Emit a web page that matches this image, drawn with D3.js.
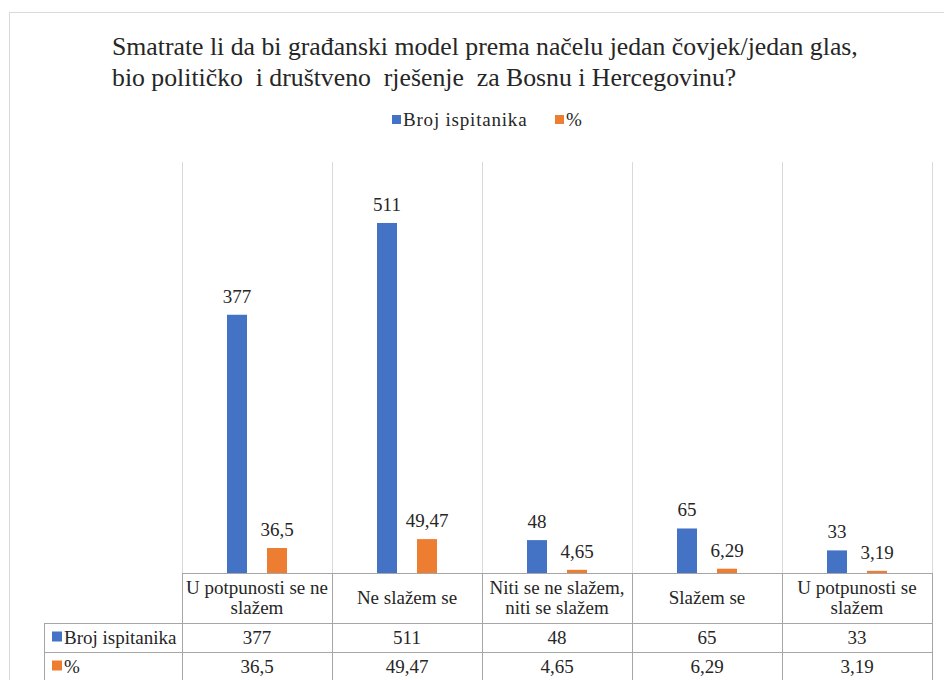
<!DOCTYPE html>
<html><head><meta charset="utf-8"><script src="https://cdn.jsdelivr.net/npm/d3@7"></script></head>
<body style="margin:0">
<script>
// chart data //
var categories = [
  ["U potpunosti se ne", "slažem"],
  ["Ne slažem se"],
  ["Niti se ne slažem,", "niti se slažem"],
  ["Slažem se"],
  ["U potpunosti se", "slažem"]
];
var seriesNames = ["Broj ispitanika", "%"];
var brojValues = [377, 511, 48, 65, 33];
var pctValues = [36.5, 49.47, 4.65, 6.29, 3.19];
var seriesColors = ["#4472C4", "#ED7D31"];
var titleLines = [
  "Smatrate li da bi građanski model prema načelu jedan čovjek/jedan glas,",
  "bio političko  i društveno  rješenje  za Bosnu i Hercegovinu?"
];

var w = 944;
var h = 680;
var serif = "'Liberation Serif', 'Times New Roman', Tinos, serif";
var ink = "#262626";

var svg = d3.select("body")
  .append("svg")
  .attr("width", w)
  .attr("height", h)
  .style("font-family", serif, "important");

// helper so every label gets the same font //
function label(sel, size) {
  return sel.append("text")
    .attr("font-family", serif)
    .style("font-family", serif, "important")
    .attr("font-size", size + "px")
    .attr("fill", ink);
}

// outer frame //
svg.append("rect")
  .attr("x", 9.5)
  .attr("y", 12.5)
  .attr("width", 960)
  .attr("height", 700)
  .attr("fill", "none")
  .attr("stroke", "#d9d9d9");

// title, sized so line one spans the same width as the original //
var titles = titleLines.map(function(t, i) {
  return label(svg, 22)
    .attr("x", 112)
    .attr("y", 55 + i * 31)
    .attr("xml:space", "preserve")
    .style("white-space", "pre")
    .text(t);
});
var tSize = 22 * 746 / titles[0].node().getComputedTextLength();
titles.forEach(function(t) { t.attr("font-size", tSize + "px"); });

// scales //
var idx = d3.range(categories.length);
var x = d3.scaleBand()
  .domain(idx)
  .range([182, 932]);

var xs = d3.scaleBand()
  .domain(seriesNames)
  .range([45, 105])
  .paddingInner(0.5);

var y = d3.scaleLinear()
  .domain([0, 600])
  .range([573, 162]);

// legend at top //
var legend = svg.append("g").attr("transform", "translate(392,120)");
var legX = [0, 163];
seriesNames.forEach(function(s, i) {
  legend.append("rect")
    .attr("x", legX[i])
    .attr("y", -5)
    .attr("width", 9)
    .attr("height", 9)
    .attr("fill", seriesColors[i]);
  label(legend, 19)
    .attr("x", legX[i] + 11)
    .attr("y", 6)
    .attr("letter-spacing", "0.8px")
    .text(s);
});

// vertical gridlines //
svg.selectAll(".grid")
  .data(idx.concat([categories.length]))
  .enter()
  .append("line")
  .attr("class", "grid")
  .attr("x1", function(d) { return (d < categories.length ? x(d) : x.range()[1]) + 0.5; })
  .attr("x2", function(d) { return (d < categories.length ? x(d) : x.range()[1]) + 0.5; })
  .attr("y1", y(600))
  .attr("y2", y(0))
  .attr("stroke", "#d9d9d9");

// bars //
var seriesData = [brojValues, pctValues];
seriesData.forEach(function(vals, s) {
  var g = svg.append("g");
  g.selectAll("rect")
    .data(vals)
    .enter()
    .append("rect")
    .attr("x", function(d, i) { return x(i) + xs(seriesNames[s]); })
    .attr("width", xs.bandwidth())
    .attr("y", function(d) { return y(d); })
    .attr("height", function(d) { return y(0) - y(d); })
    .attr("fill", seriesColors[s]);

  vals.forEach(function(d, i) {
    label(g, 19)
      .attr("x", x(i) + xs(seriesNames[s]) + xs.bandwidth() / 2)
      .attr("y", y(d) - 12)
      .attr("text-anchor", "middle")
      .text(String(d).replace(".", ","));
  });
});

// data table //
var tableColor = "#a6a6a6";
var rowY = [573, 623, 652, 681];
var tableLeft = 44;
var tableRight = x.range()[1];

// horizontal lines //
svg.selectAll(".hline")
  .data(rowY)
  .enter()
  .append("line")
  .attr("x1", function(d, i) { return i === 0 ? x(0) : tableLeft; })
  .attr("x2", tableRight + 1)
  .attr("y1", function(d) { return d + 0.5; })
  .attr("y2", function(d) { return d + 0.5; })
  .attr("stroke", tableColor);

// vertical lines //
svg.selectAll(".vline")
  .data(idx.concat([categories.length]))
  .enter()
  .append("line")
  .attr("x1", function(d) { return (d < categories.length ? x(d) : tableRight) + 0.5; })
  .attr("x2", function(d) { return (d < categories.length ? x(d) : tableRight) + 0.5; })
  .attr("y1", rowY[0])
  .attr("y2", rowY[3])
  .attr("stroke", tableColor);

svg.append("line")
  .attr("x1", tableLeft + 0.5)
  .attr("x2", tableLeft + 0.5)
  .attr("y1", rowY[1])
  .attr("y2", rowY[3])
  .attr("stroke", tableColor);

// header cells //
categories.forEach(function(lines, i) {
  var cy = (rowY[0] + rowY[1]) / 2;
  var lh = 20;
  lines.forEach(function(l, j) {
    label(svg, 19)
      .attr("x", x(i) + x.bandwidth() / 2)
      .attr("y", cy + 6 + (j - (lines.length - 1) / 2) * lh)
      .attr("text-anchor", "middle")
      .text(l);
  });
});

// value rows //
seriesData.forEach(function(vals, s) {
  var cy = (rowY[s + 1] + rowY[s + 2]) / 2;
  svg.append("rect")
    .attr("x", 52)
    .attr("y", cy - 6)
    .attr("width", 10)
    .attr("height", 10)
    .attr("fill", seriesColors[s]);
  label(svg, 19)
    .attr("x", 64)
    .attr("y", cy + 6)
    .text(seriesNames[s]);
  vals.forEach(function(v, i) {
    label(svg, 19)
      .attr("x", x(i) + x.bandwidth() / 2)
      .attr("y", cy + 6)
      .attr("text-anchor", "middle")
      .text(String(v).replace(".", ","));
  });
});
</script>
</body>
</html>
